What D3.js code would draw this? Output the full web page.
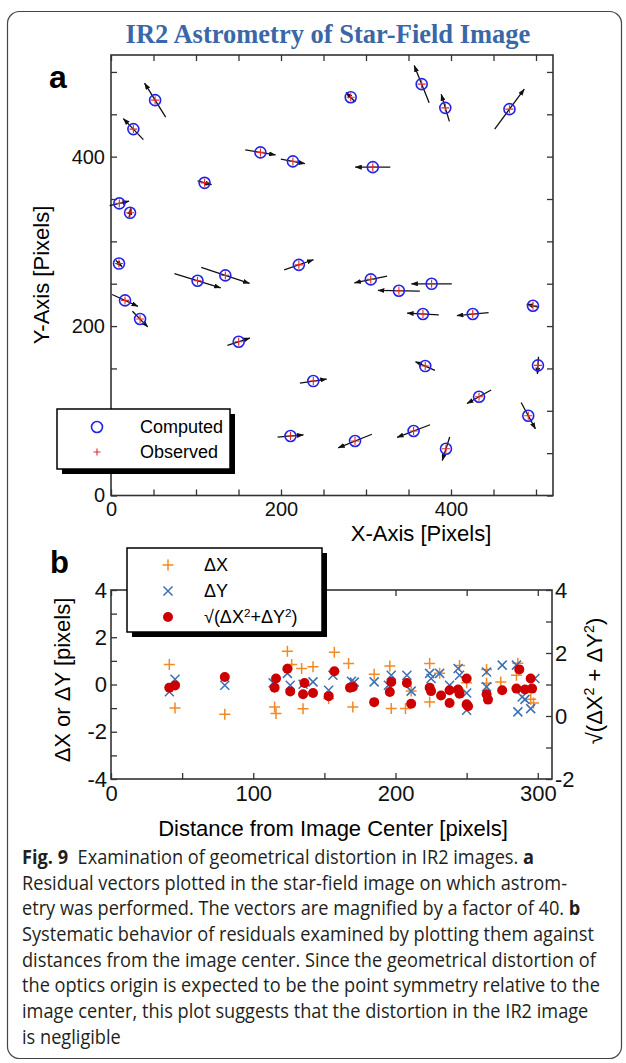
<!DOCTYPE html>
<html>
<head>
<meta charset="utf-8">
<script src="https://cdn.jsdelivr.net/npm/d3@7"></script>
<style>
  body { margin: 0; background: #fff; }
  text { font-family: "Liberation Sans", Arial, sans-serif; }
</style>
</head>
<body>
<div id="chart"></div>
<script>
/* CONSTANTS AND GLOBALS */
const width = 626,
  height = 1063,
  magnify = 40;

/* DATA - panel a: star positions [pixels] and residuals [pixels] */
const starX = [51.9, 26.3, 175.8, 214.0, 110.1, 9.8, 22.4, 9.4, 16.5, 34.2, 101.8, 134.5, 221.0, 150.2, 238.0, 211.2, 282.0,
  365.5, 393.3, 468.8, 308.0, 305.6, 338.7, 377.2, 367.0, 425.6, 496.4, 369.7, 502.3, 433.0, 490.9, 356.0, 287.1, 394.1];
const starY = [466.7, 432.5, 405.0, 394.4, 369.1, 344.8, 333.7, 273.8, 230.3, 208.3, 253.5, 259.8, 272.3, 181.5, 135.1, 70.2, 470.2,
  485.6, 457.6, 456.1, 387.6, 255.1, 241.7, 249.9, 214.2, 214.2, 224.0, 152.8, 153.6, 116.6, 94.2, 76.1, 64.3, 55.2];
const residX = [-0.62, -0.59, 0.89, 0.71, 0.41, 0.57, 0.06, 0.18, 0.76, 0.45, 1.36, 1.42, 0.86, 0.66, 0.79, 0.76, -0.27,
  -0.44, -0.24, 0.87, -1.03, -0.96, -1.23, -1.19, -0.93, -0.93, -0.36, -0.57, -0.03, -0.71, 0.42, -0.97, -0.99, -0.22];
const residY = [1.00, 0.62, -0.15, -0.13, -0.11, 0.13, 0.27, -0.18, -0.35, -0.46, -0.42, -0.47, 0.30, 0.22, 0.12, 0.07, 0.28,
  1.10, 0.80, 1.18, 0, -0.20, 0.02, 0, 0.05, -0.09, 0.10, 0.25, -0.51, -0.40, -0.78, -0.37, -0.40, -0.69];

/* DATA - panel b: residuals against distance from image center */
const dxDist = [41, 45, 80, 115, 116, 124, 127, 134, 142, 135, 153, 157, 167, 170, 185, 196, 197, 207, 211, 224, 224, 231,
  245, 250, 245, 264, 264, 274, 286, 285, 295, 297];
const dxVal = [0.85, -0.99, -1.26, -0.95, -1.23, 1.41, 0.85, 0.68, 0.75, -1.03, -0.59, 1.36, 0.89, -0.95, 0.43, 0.78, -1.02,
  -1.02, -0.28, 0.89, -0.74, 0.48, 0.8, 0.07, -0.31, 0.64, 0.05, 0.11, 0.9, 0.39, -0.62, -0.78];
const dyDist = [41, 45, 80, 114, 124, 126, 135, 142, 153, 156, 169, 171, 185, 195, 197, 208, 211, 224, 225, 231, 238, 244,
  245, 250, 250, 264, 264, 275, 285, 286, 289, 291, 295, 298];
const dyVal = [-0.31, 0.22, -0.03, 0.07, 0.47, -0.03, 0.01, 0.11, -0.24, 0.39, 0.14, 0.10, 0.11, -0.03, 0.39, 0.39, -0.28,
  0.47, 0.25, 0.47, -0.03, 0.68, 0.39, -0.36, -1.09, 0.53, -0.10, 0.82, 0.82, -1.16, -0.53, -0.63, -1.02, 0.25];
const drDist = [41, 45, 80, 116, 115, 124, 126, 136, 135, 142, 153, 157, 168, 170, 185, 196, 197, 208, 211, 224, 225, 232,
  238, 238, 244, 245, 250, 250, 251, 264, 265, 275, 285, 287, 291, 295, 296];
const drVal = [0.90, 0.97, 1.24, 1.19, 0.90, 1.50, 0.78, 1.05, 0.69, 0.73, 0.63, 1.42, 0.90, 0.92, 0.44, 0.76, 1.08, 1.05,
  0.39, 0.90, 0.79, 0.65, 0.82, 0.41, 0.84, 0.71, 1.19, 0.37, 0.31, 0.69, 0.52, 0.82, 0.87, 1.48, 0.84, 1.19, 0.87];

/* TICKS AND LABELS */
const ticksA = [0, 200, 400];
const ticksBx = [0, 100, 200, 300];
const ticksBLeft = [-4, -2, 0, 2, 4];
const ticksBRight = [-2, 0, 2, 4];
const legendA = ["Computed", "Observed"];

const captionLines = [
  [["Fig. 9", true], ["  Examination of geometrical distortion in IR2 images. ", false], ["a", true]],
  [["Residual vectors plotted in the star-field image on which astrom-", false]],
  [["etry was performed. The vectors are magnified by a factor of 40. ", false], ["b", true]],
  [["Systematic behavior of residuals examined by plotting them against", false]],
  [["distances from the image center. Since the geometrical distortion of", false]],
  [["the optics origin is expected to be the point symmetry relative to the", false]],
  [["image center, this plot suggests that the distortion in the IR2 image", false]],
  [["is negligible", false]]
];

const orange = "#f08a24", blue = "#3d6fb4", red = "#cc0000", ink = "#333";

/* SVG */
const svg = d3.select("#chart")
  .append("svg")
  .attr("width", width)
  .attr("height", height);

svg.append("rect")
  .attr("x", 7.5).attr("y", 11.5)
  .attr("width", 614).attr("height", 1047)
  .attr("rx", 12)
  .attr("fill", "none")
  .attr("stroke", "#444")
  .attr("stroke-width", 1.2);

// arrow head for residual vectors
svg.append("defs")
  .append("marker")
  .attr("id", "arrow")
  .attr("viewBox", "0 0 7 5")
  .attr("refX", 6.5).attr("refY", 2.5)
  .attr("markerUnits", "userSpaceOnUse")
  .attr("markerWidth", 7).attr("markerHeight", 5)
  .attr("orient", "auto")
  .append("path")
  .attr("d", "M0,0L7,2.5L0,5Z")
  .attr("fill", "#111");

// helper: axis with ticks pointing into the frame
function drawAxis(axis, transform, fontSize) {
  const g = svg.append("g").attr("transform", transform).call(axis);
  g.select(".domain").remove();
  g.selectAll("line").attr("stroke", ink).attr("stroke-width", 1.3);
  g.attr("font-family", null).attr("font-size", null);
  g.selectAll("text").attr("font-size", fontSize).attr("fill", "#111");
  return g;
}

function frame(x, y) {
  svg.append("rect")
    .attr("x", x.range()[0]).attr("y", y.range()[1])
    .attr("width", x.range()[1] - x.range()[0])
    .attr("height", y.range()[0] - y.range()[1])
    .attr("fill", "none")
    .attr("stroke", ink)
    .attr("stroke-width", 1.6);
}

/* PANEL A */
const xA = d3.scaleLinear().domain([0, 520]).range([111, 553]);
const yA = d3.scaleLinear().domain([0, 520]).range([495.5, 55]);
const stepsA = d3.range(0, 521, 50);

svg.append("text")
  .attr("x", 328).attr("y", 43)
  .attr("text-anchor", "middle")
  .style("font-family", "'Liberation Serif', 'Times New Roman', serif")
  .attr("font-weight", "bold")
  .attr("font-size", 26.5)
  .attr("fill", "#3a67a8")
  .text("IR2 Astrometry of Star-Field Image");

svg.append("text")
  .attr("x", 49).attr("y", 88)
  .attr("font-weight", "bold").attr("font-size", 32)
  .text("a");

drawAxis(d3.axisBottom(xA).tickValues(stepsA).tickSizeInner(-6).tickSizeOuter(0).tickPadding(6)
  .tickFormat(d => ticksA.includes(d) ? d : ""), `translate(0,${yA(0)})`, 20);
drawAxis(d3.axisTop(xA).tickValues(stepsA).tickSizeInner(-6).tickSizeOuter(0).tickFormat(""),
  `translate(0,${yA(520)})`, 20);
drawAxis(d3.axisLeft(yA).tickValues(stepsA).tickSizeInner(-6).tickSizeOuter(0).tickPadding(6)
  .tickFormat(d => ticksA.includes(d) ? d : ""), `translate(${xA(0)},0)`, 20);
drawAxis(d3.axisRight(yA).tickValues(stepsA).tickSizeInner(-6).tickSizeOuter(0).tickFormat(""),
  `translate(${xA(520)},0)`, 20);
frame(xA, yA);

svg.append("text")
  .attr("x", 421).attr("y", 541)
  .attr("text-anchor", "middle")
  .attr("font-size", 22)
  .text("X-Axis [Pixels]");

svg.append("text")
  .attr("transform", "translate(41,275) rotate(-90)")
  .attr("dy", "0.35em")
  .attr("text-anchor", "middle")
  .attr("font-size", 22)
  .text("Y-Axis [Pixels]");

// residual vectors, centred on each star, magnified 40x
const stars = starX.map((x, i) => ({ x, y: starY[i], rx: residX[i], ry: residY[i] }));
const half = magnify / 2;

svg.append("g")
  .selectAll("line")
  .data(stars)
  .join("line")
  .attr("x1", d => xA(d.x - d.rx * half))
  .attr("y1", d => yA(d.y - d.ry * half))
  .attr("x2", d => xA(d.x + d.rx * half))
  .attr("y2", d => yA(d.y + d.ry * half))
  .attr("stroke", "#111")
  .attr("stroke-width", 1.3)
  .attr("marker-end", "url(#arrow)");

svg.append("g")
  .selectAll("circle")
  .data(stars)
  .join("circle")
  .attr("cx", d => xA(d.x))
  .attr("cy", d => yA(d.y))
  .attr("r", 5.5)
  .attr("fill", "none")
  .attr("stroke", "#2323e8")
  .attr("stroke-width", 1.6);

const plusPath = s => `M${-s},0H${s}M0,${-s}V${s}`;
const crossPath = s => `M${-s},${-s}L${s},${s}M${-s},${s}L${s},${-s}`;

svg.append("g")
  .selectAll("path")
  .data(stars)
  .join("path")
  .attr("transform", d => `translate(${xA(d.x)},${yA(d.y)})`)
  .attr("d", plusPath(4))
  .attr("stroke", "#e02828")
  .attr("stroke-width", 1.1);

// legend a
const legA = svg.append("g");
legA.append("rect").attr("x", 62).attr("y", 414).attr("width", 173).attr("height", 60).attr("fill", "#000");
legA.append("rect").attr("x", 57).attr("y", 409).attr("width", 173).attr("height", 60)
  .attr("fill", "#fff").attr("stroke", "#000").attr("stroke-width", 1.5);
legA.append("circle").attr("cx", 97).attr("cy", 427).attr("r", 5.5)
  .attr("fill", "none").attr("stroke", "#2323e8").attr("stroke-width", 1.6);
legA.append("path").attr("transform", "translate(97,452)").attr("d", plusPath(3.5))
  .attr("stroke", "#e02828").attr("stroke-width", 1.1);
legA.selectAll("text.lab")
  .data(legendA)
  .join("text")
  .attr("class", "lab")
  .attr("x", 140)
  .attr("y", (d, i) => 427 + i * 25)
  .attr("dy", "0.35em")
  .attr("font-size", 18)
  .text(d => d);

/* PANEL B */
const xB = d3.scaleLinear().domain([0, 310]).range([111, 552]);
const yB = d3.scaleLinear().domain([-4, 4]).range([779, 590]);
const yR = d3.scaleLinear().domain([-2, 4]).range([779, 590]);

svg.append("text")
  .attr("x", 50).attr("y", 573)
  .attr("font-weight", "bold").attr("font-size", 31)
  .text("b");

drawAxis(d3.axisBottom(xB).tickValues(d3.range(0, 301, 50)).tickSizeInner(-6).tickSizeOuter(0).tickPadding(6)
  .tickFormat(d => ticksBx.includes(d) ? d : ""), `translate(0,${yB(-4)})`, 22);
drawAxis(d3.axisTop(xB).tickValues(d3.range(0, 301, 50)).tickSizeInner(-6).tickSizeOuter(0).tickFormat(""),
  `translate(0,${yB(4)})`, 22);
drawAxis(d3.axisLeft(yB).tickValues(d3.range(-4, 5, 1)).tickSizeInner(-6).tickSizeOuter(0).tickPadding(4)
  .tickFormat(d => ticksBLeft.includes(d) ? d : ""), `translate(${xB(0)},0)`, 22);
drawAxis(d3.axisRight(yR).tickValues(d3.range(-2, 5, 1)).tickSizeInner(-6).tickSizeOuter(0).tickPadding(3)
  .tickFormat(d => ticksBRight.includes(d) ? d : ""), `translate(${xB(310)},0)`, 22);
frame(xB, yB);

svg.append("text")
  .attr("x", 333).attr("y", 836)
  .attr("text-anchor", "middle")
  .attr("font-size", 22)
  .text("Distance from Image Center [pixels]");

svg.append("text")
  .attr("transform", "translate(62,680) rotate(-90)")
  .attr("dy", "0.35em")
  .attr("text-anchor", "middle")
  .attr("font-size", 22)
  .text("\u0394X or \u0394Y [pixels]");

// sqrt(dX^2 + dY^2) label, used on the right axis and in the legend
function sqrtLabel(sel, spaced) {
  const sep = spaced ? " + " : "+";
  sel.append("tspan").text("\u221A(\u0394X");
  sel.append("tspan").attr("baseline-shift", "super").attr("font-size", "0.65em").text("2");
  sel.append("tspan").text(sep + "\u0394Y");
  sel.append("tspan").attr("baseline-shift", "super").attr("font-size", "0.65em").text("2");
  sel.append("tspan").text(")");
}

svg.append("text")
  .attr("transform", "translate(594,681) rotate(-90)")
  .attr("dy", "0.35em")
  .attr("text-anchor", "middle")
  .attr("font-size", 22)
  .call(sqrtLabel, true);

// residual points
svg.append("g")
  .selectAll("path")
  .data(dxDist.map((d, i) => [d, dxVal[i]]))
  .join("path")
  .attr("transform", d => `translate(${xB(d[0])},${yB(d[1])})`)
  .attr("d", plusPath(5.5))
  .attr("stroke", orange)
  .attr("stroke-width", 1.5);

svg.append("g")
  .selectAll("path")
  .data(dyDist.map((d, i) => [d, dyVal[i]]))
  .join("path")
  .attr("transform", d => `translate(${xB(d[0])},${yB(d[1])})`)
  .attr("d", crossPath(4.5))
  .attr("stroke", blue)
  .attr("stroke-width", 1.5);

svg.append("g")
  .selectAll("circle")
  .data(drDist.map((d, i) => [d, drVal[i]]))
  .join("circle")
  .attr("cx", d => xB(d[0]))
  .attr("cy", d => yR(d[1]))
  .attr("r", 5)
  .attr("fill", red);

// legend b
const legB = svg.append("g");
legB.append("rect").attr("x", 132).attr("y", 553).attr("width", 195).attr("height", 84).attr("fill", "#000");
legB.append("rect").attr("x", 127).attr("y", 548).attr("width", 195).attr("height", 84)
  .attr("fill", "#fff").attr("stroke", "#000").attr("stroke-width", 1.5);
legB.append("path").attr("transform", "translate(168,565)").attr("d", plusPath(5.5))
  .attr("stroke", orange).attr("stroke-width", 1.5);
legB.append("path").attr("transform", "translate(168,591)").attr("d", crossPath(4.5))
  .attr("stroke", blue).attr("stroke-width", 1.5);
legB.append("circle").attr("cx", 168).attr("cy", 617).attr("r", 5).attr("fill", red);
legB.append("text").attr("x", 204).attr("y", 565).attr("dy", "0.35em").attr("font-size", 18).text("\u0394X");
legB.append("text").attr("x", 204).attr("y", 591).attr("dy", "0.35em").attr("font-size", 18).text("\u0394Y");
legB.append("text").attr("x", 204).attr("y", 617).attr("dy", "0.35em").attr("font-size", 18).call(sqrtLabel, false);

/* CAPTION */
const cap = svg.append("g");
captionLines.forEach((line, i) => {
  const t = cap.append("text")
    .attr("x", 0)
    .attr("y", 864 + i * 25.7)
    .attr("font-size", 20)
    .attr("fill", "#231f20")
    .style("font-family", "'Open Sans', 'Noto Sans', sans-serif")
    .style("white-space", "pre");
  line.forEach(([s, bold]) => {
    t.append("tspan").attr("font-weight", bold ? "bold" : "normal").text(s);
  });
});
// squeeze the caption horizontally so the long lines fit the panel width
const longest = d3.max(cap.selectAll("text").nodes(), n => n.getComputedTextLength());
cap.attr("transform", `translate(22,0) scale(${578 / longest},1)`);
</script>
</body>
</html>
